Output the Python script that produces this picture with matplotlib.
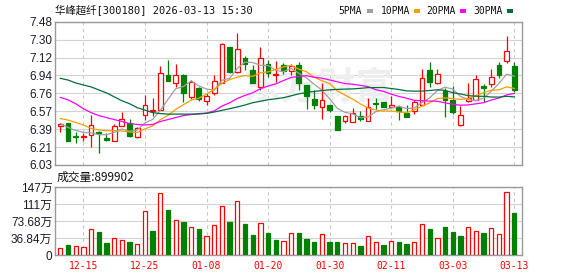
import matplotlib
matplotlib.use("Agg")
import matplotlib.pyplot as plt
from matplotlib.patches import Rectangle
import numpy as np

# ---------------- data ----------------
title = "华峰超纤[300180] 2026-03-13 15:30"
dates = ["12-10", "12-11", "12-12", "12-15", "12-16", "12-17", "12-18", "12-19", "12-22", "12-23",
         "12-24", "12-25", "12-26", "12-29", "12-30", "12-31", "01-05", "01-06", "01-07", "01-08",
         "01-09", "01-12", "01-13", "01-14", "01-15", "01-16", "01-19", "01-20", "01-21", "01-22",
         "01-23", "01-26", "01-27", "01-28", "01-29", "01-30", "02-02", "02-03", "02-04", "02-05",
         "02-06", "02-09", "02-10", "02-11", "02-12", "02-13", "02-24", "02-25", "02-26", "02-27",
         "03-02", "03-03", "03-04", "03-05", "03-06", "03-09", "03-10", "03-11", "03-12", "03-13"]
tick_labels = ["12-15", "12-25", "01-08", "01-20", "01-30", "02-11", "03-03", "03-13"]

opens = [6.42, 6.45, 6.32, 6.31, 6.33, 6.36, 6.30, 6.27, 6.42, 6.45,
         6.31, 6.54, 6.58, 6.59, 6.94, 6.86, 6.94, 6.72, 6.81, 6.68,
         6.76, 6.86, 7.22, 6.97, 7.11, 6.99, 6.82, 7.05, 6.94, 7.04,
         6.98, 7.04, 6.84, 6.70, 6.62, 6.64, 6.53, 6.48, 6.47, 6.53,
         6.48, 6.66, 6.67, 6.62, 6.62, 6.56, 6.58, 6.64, 6.99, 6.86,
         6.78, 6.69, 6.43, 6.68, 6.69, 6.83, 6.85, 7.04, 7.08, 7.03]
highs = [6.46, 6.46, 6.36, 6.35, 6.54, 6.37, 6.35, 6.44, 6.57, 6.50,
         6.41, 6.74, 6.71, 7.03, 7.09, 7.05, 6.95, 6.89, 6.82, 6.76,
         6.94, 7.26, 7.22, 7.37, 7.13, 7.04, 7.22, 7.09, 7.08, 7.06,
         7.05, 7.07, 6.84, 6.79, 6.86, 6.64, 6.53, 6.54, 6.61, 6.58,
         6.71, 6.71, 6.67, 6.73, 6.64, 6.64, 6.69, 7.00, 7.07, 7.00,
         6.81, 6.83, 6.63, 6.86, 6.94, 6.85, 7.00, 7.07, 7.34, 7.07]
lows = [6.36, 6.27, 6.25, 6.27, 6.21, 6.15, 6.27, 6.27, 6.42, 6.31,
        6.30, 6.49, 6.53, 6.59, 6.88, 6.82, 6.67, 6.70, 6.68, 6.64,
        6.74, 6.86, 6.96, 6.96, 6.99, 6.86, 6.79, 6.92, 6.87, 6.95,
        6.94, 6.79, 6.60, 6.60, 6.50, 6.57, 6.38, 6.46, 6.47, 6.48,
        6.48, 6.60, 6.62, 6.62, 6.49, 6.52, 6.55, 6.64, 6.82, 6.85,
        6.52, 6.55, 6.42, 6.67, 6.69, 6.67, 6.82, 6.91, 7.06, 6.77]
closes = [6.44, 6.27, 6.31, 6.32, 6.43, 6.35, 6.28, 6.42, 6.50, 6.32,
          6.40, 6.64, 6.59, 6.96, 6.88, 6.94, 6.76, 6.87, 6.70, 6.73,
          6.88, 7.25, 6.97, 7.20, 7.05, 6.86, 7.11, 6.96, 6.95, 6.98,
          7.03, 6.86, 6.73, 6.64, 6.69, 6.59, 6.38, 6.53, 6.56, 6.50,
          6.62, 6.65, 6.62, 6.64, 6.58, 6.52, 6.67, 6.91, 6.87, 6.95,
          6.69, 6.57, 6.54, 6.71, 6.90, 6.81, 6.92, 6.94, 7.18, 6.79]

ma5 = [6.45, 6.41, 6.38, 6.36, 6.355, 6.336, 6.337, 6.359, 6.395, 6.372,
       6.383, 6.456, 6.491, 6.582, 6.695, 6.802, 6.824, 6.881, 6.830, 6.799,
       6.787, 6.887, 6.907, 7.007, 7.071, 7.067, 7.039, 7.037, 6.988, 6.975,
       7.007, 6.958, 6.911, 6.847, 6.788, 6.700, 6.603, 6.562, 6.547, 6.508,
       6.516, 6.570, 6.589, 6.606, 6.623, 6.602, 6.606, 6.663, 6.709, 6.783,
       6.818, 6.798, 6.724, 6.692, 6.682, 6.706, 6.775, 6.855, 6.949, 6.928]
ma10 = [6.50, 6.485, 6.46, 6.435, 6.40, 6.385, 6.377, 6.377, 6.374, 6.363,
        6.359, 6.396, 6.425, 6.488, 6.533, 6.592, 6.640, 6.686, 6.706, 6.747,
        6.795, 6.856, 6.894, 6.918, 6.935, 6.927, 6.963, 6.972, 6.997, 7.023,
        7.037, 6.999, 6.974, 6.918, 6.882, 6.854, 6.781, 6.737, 6.697, 6.648,
        6.608, 6.586, 6.576, 6.576, 6.566, 6.559, 6.588, 6.626, 6.658, 6.703,
        6.710, 6.702, 6.694, 6.701, 6.732, 6.762, 6.787, 6.790, 6.821, 6.805]
ma20 = [6.714, 6.69, 6.65, 6.60, 6.56, 6.53, 6.51, 6.49, 6.47, 6.45,
        6.44, 6.435, 6.44, 6.47, 6.49, 6.51, 6.53, 6.54, 6.55, 6.555,
        6.577, 6.626, 6.659, 6.703, 6.734, 6.760, 6.802, 6.829, 6.851, 6.885,
        6.916, 6.927, 6.934, 6.918, 6.908, 6.891, 6.872, 6.854, 6.847, 6.836,
        6.823, 6.792, 6.775, 6.747, 6.724, 6.706, 6.684, 6.681, 6.677, 6.675,
        6.659, 6.644, 6.635, 6.638, 6.649, 6.660, 6.687, 6.708, 6.739, 6.754]
ma30 = [6.907, 6.89, 6.86, 6.84, 6.82, 6.79, 6.76, 6.72, 6.68, 6.65,
        6.61, 6.585, 6.56, 6.55, 6.545, 6.545, 6.545, 6.545, 6.546, 6.553,
        6.566, 6.583, 6.60, 6.617, 6.637, 6.66, 6.675, 6.69, 6.70, 6.711,
        6.730, 6.750, 6.764, 6.775, 6.783, 6.791, 6.795, 6.798, 6.800, 6.806,
        6.813, 6.813, 6.814, 6.804, 6.794, 6.780, 6.777, 6.778, 6.784, 6.791,
        6.785, 6.762, 6.748, 6.732, 6.726, 6.725, 6.718, 6.717, 6.725, 6.719]

volumes_wan = [14.4, 21.7, 19.5, 16.6, 55.6, 49.8, 26.7, 36.1, 32.5, 28.2,
               23.1, 94.6, 52.0, 133.6, 97.5, 75.9, 71.5, 60.0, 56.3, 41.2,
               65.0, 106.2, 71.5, 116.3, 67.9, 44.1, 68.6, 47.7, 32.5, 30.3,
               47.0, 47.7, 34.7, 28.2, 44.8, 28.2, 28.2, 25.3, 25.3, 19.5,
               40.5, 27.5, 21.7, 29.6, 28.2, 23.8, 27.5, 66.5, 56.3, 36.1,
               60.7, 49.8, 41.2, 60.0, 51.3, 47.7, 57.8, 45.5, 137.3, 89.9902]
latest_volume = 899902

price_ticks = [6.03, 6.21, 6.39, 6.57, 6.76, 6.94, 7.12, 7.30, 7.48]
vol_ticks = [0, 36.84, 73.68, 110.52, 147.36]
vol_tick_labels = ["0", "36.84万", "73.68万", "111万", "147万"]

ma_names = ["5PMA", "10PMA", "20PMA", "30PMA"]
ma_colors = ["#a0a0a0", "#f5a000", "#ff00ff", "#006f3a"]

# ---------------- style ----------------
RED = "#ff0000"
GREEN = "#008000"
GRID = "#d3d3d3"
SPINE = "#9a9a9a"
LBL = "#1c1c2c"
W, H = 578, 276
mono_cjk = ["DejaVu Sans Mono", "Noto Sans CJK SC"]
tickfont = ["Liberation Sans", "Noto Sans CJK SC"]

fig = plt.figure(figsize=(W / 100, H / 100), dpi=100)
fig.patch.set_facecolor("white")

x0, x1 = 55, 522
ax = fig.add_axes([x0 / W, 1 - 165 / H, (x1 - x0) / W, (165 - 21.7) / H])
ax2 = fig.add_axes([x0 / W, 1 - 255 / H, (x1 - x0) / W, (255 - 187) / H])

n = len(closes)
x = np.arange(n)
tick_pos = [dates.index(t) for t in tick_labels]

for a in (ax, ax2):
    a.set_xlim(-0.69, 60.0)
    a.set_axisbelow(True)
    for s in a.spines.values():
        s.set_color(SPINE)
        s.set_linewidth(1.0)
    a.set_xticks(tick_pos)
    a.xaxis.grid(True, color="#c8c8c8", linestyle=(0, (3, 3)), linewidth=0.8)
    a.yaxis.grid(True, color=GRID, linestyle="-", linewidth=0.8)
    a.tick_params(length=0)

# price panel
ax.set_ylim(price_ticks[0], price_ticks[-1])
ax.set_yticks(np.linspace(price_ticks[0], price_ticks[-1], len(price_ticks)))
ax.set_yticklabels([f"{v:.2f}" for v in price_ticks], fontsize=8.5, color=LBL,
                   family=tickfont)
ax.tick_params(axis="y", pad=2)
ax.set_xticklabels([])

# watermark
ax.text(0.565, 0.54, "东方财富", transform=ax.transAxes, fontsize=27, color="#eeeeee",
        family=["Noto Sans CJK SC"], fontweight="bold", ha="center", va="center", zorder=1)

body_w = 0.62
for i in range(n):
    o, h, l, c = opens[i], highs[i], lows[i], closes[i]
    up = c >= o
    col = RED if up else GREEN
    lo_b, hi_b = min(o, c), max(o, c)
    ax.vlines(x[i], l, h, color=col, linewidth=0.9, zorder=3)
    hgt = max(hi_b - lo_b, 0.004)
    if up:
        ax.add_patch(Rectangle((x[i] - body_w / 2, lo_b), body_w, hgt, facecolor="white",
                               edgecolor=col, linewidth=0.9, zorder=4))
    else:
        ax.add_patch(Rectangle((x[i] - body_w / 2, lo_b), body_w, hgt, facecolor=col,
                               edgecolor=col, linewidth=0.9, zorder=4))

for vals, col in zip([ma5, ma10, ma20, ma30], ma_colors):
    ax.plot(x, vals, color=col, linewidth=0.9, zorder=5)

# volume panel
ax2.set_ylim(0, vol_ticks[-1])
ax2.set_yticks(vol_ticks)
ax2.set_yticklabels(vol_tick_labels, fontsize=8.5, color=LBL, family=tickfont)
ax2.tick_params(axis="y", pad=2)
ax2.set_xticklabels(tick_labels, fontsize=7, color=RED, family=mono_cjk)
ax2.tick_params(axis="x", pad=4.5)

vol_w = 0.56
for i in range(n):
    prev = closes[i - 1] if i > 0 else opens[i]
    up = closes[i] >= prev
    if up:
        ax2.bar(x[i], volumes_wan[i], width=vol_w, facecolor="white", edgecolor=RED,
                linewidth=0.9, zorder=3)
    else:
        ax2.bar(x[i], volumes_wan[i], width=vol_w, facecolor=GREEN, edgecolor=GREEN,
                linewidth=0.9, zorder=3)

# header texts
fig.text(55 / W, 1 - 11 / H, title, fontsize=7.5, family=mono_cjk, color="#111111",
         ha="left", va="center")
legend_text_x = [338, 381, 426, 473]
legend_box_x = [367, 414, 460, 507]
for name, col, tx, bx in zip(ma_names, ma_colors, legend_text_x, legend_box_x):
    fig.text(tx / W, 1 - 11 / H, name, fontsize=7, family=mono_cjk, color="#111111",
             ha="left", va="center")
    fig.add_artist(Rectangle((bx / W, 1 - 12.5 / H), 6 / W, 4 / H, facecolor=col,
                             edgecolor="none", transform=fig.transFigure))

fig.text(57 / W, 1 - 177 / H, f"成交量:{latest_volume}", fontsize=8.5,
         family=["Noto Sans CJK SC"], color="#111111", ha="left", va="center")

fig.savefig("out.png", dpi=100)
